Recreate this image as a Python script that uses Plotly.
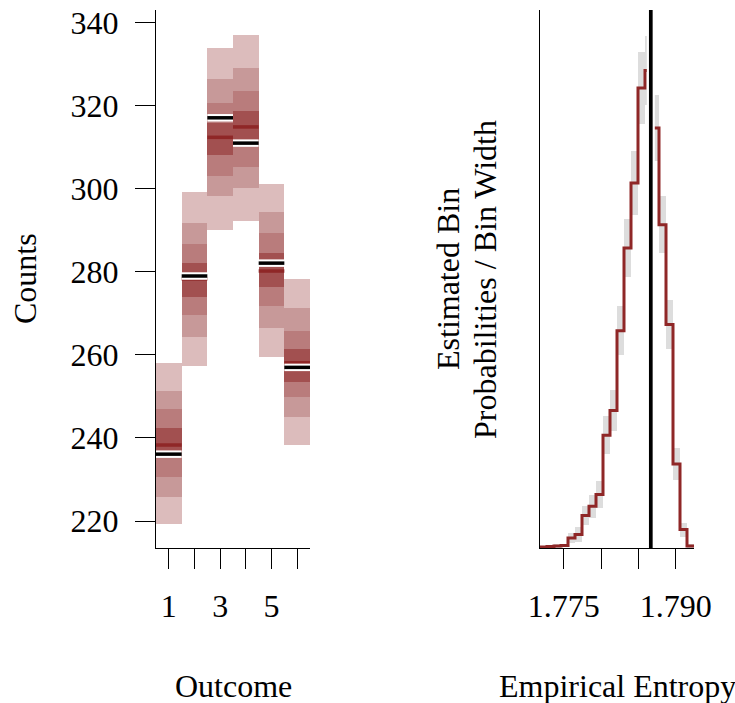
import plotly.graph_objects as go

# ---------------- data: left panel (posterior predictive quantiles of counts) ----
outcomes = [1, 2, 3, 4, 5, 6]
outcome_tick_vals = [1, 2, 3, 4, 5, 6]
outcome_tick_text = ["1", "", "3", "", "5", ""]
count_tick_vals = [220, 240, 260, 280, 300, 320, 340]

q10 = [219.3, 257.4, 290.2, 292.3, 259.6, 238.3]
q20 = [225.9, 264.4, 298.3, 300.1, 266.6, 245.1]
q30 = [230.7, 269.6, 303.2, 305.3, 271.8, 249.8]
q40 = [235.5, 274.0, 308.1, 310.1, 276.3, 253.5]
q50 = [238.3, 278.3, 312.4, 314.9, 280.2, 258.1]
q60 = [242.5, 282.2, 315.9, 318.7, 284.5, 261.4]
q70 = [247.0, 286.6, 320.7, 323.6, 289.3, 265.8]
q80 = [251.3, 291.8, 326.5, 329.0, 294.3, 271.2]
q90 = [258.1, 299.2, 334.0, 337.0, 301.1, 278.4]
observed_counts = [236.1, 279.0, 317.1, 311.0, 282.1, 257.0]

# ---------------- data: right panel (empirical entropy histogram) ----------------
bin_min = 1.77183
bin_width = 0.0009375
density = [0.16, 0.32, 0.49, 0.65, 3.1, 4.2, 10.4, 13.4, 17.2, 36.4, 44.4,
           70.3, 97.1, 118.2, 149.0, 154.7, 136.0, 104.7, 72.3, 27.1, 5.8, 0.49]
density_err = [0.3, 0.3, 0.5, 0.6, 1.6, 2.3, 3.2, 3.7, 4.3, 6.2, 6.6,
               7.9, 9.4, 10.4, 11.7, 11.3, 10.7, 9.2, 7.9, 5.2, 2.3, 0.5]
observed_entropy = 1.78667
entropy_tick_vals = [1.775, 1.780, 1.785, 1.790]
entropy_tick_text = ["1.775", "", "", "1.790"]

# ---------------- styling ----------------
C_LIGHT = "#DCBCBC"
C_LIGHT_HL = "#C79999"
C_MID = "#B97C7C"
C_MID_HL = "#A25050"
C_DARK = "#8F2727"
FONT = "Liberation Serif"
W, H = 735, 703

fig = go.Figure()

# nested quantile bands
bands = [(q10, q90, C_LIGHT), (q20, q80, C_LIGHT_HL),
         (q30, q70, C_MID), (q40, q60, C_MID_HL)]
for lo, hi, col in bands:
    fig.add_trace(go.Bar(
        x=outcomes, base=lo, y=[h - l for l, h in zip(lo, hi)], width=1.0,
        marker=dict(color=col, line=dict(width=0)),
        xaxis="x", yaxis="y", showlegend=False, hoverinfo="skip"))


def seg(xs, ys):
    sx, sy = [], []
    for xv, yv in zip(xs, ys):
        sx += [xv - 0.5, xv + 0.5, None]
        sy += [yv, yv, None]
    return sx, sy


mx, my = seg(outcomes, q50)
fig.add_trace(go.Scatter(x=mx, y=my, mode="lines", line=dict(color=C_DARK, width=3.5),
                         xaxis="x", yaxis="y", showlegend=False, hoverinfo="skip"))
ox, oy = seg(outcomes, observed_counts)
fig.add_trace(go.Scatter(x=ox, y=oy, mode="lines", line=dict(color="white", width=7.5),
                         xaxis="x", yaxis="y", showlegend=False, hoverinfo="skip"))
fig.add_trace(go.Scatter(x=ox, y=oy, mode="lines", line=dict(color="black", width=3.5),
                         xaxis="x", yaxis="y", showlegend=False, hoverinfo="skip"))

# histogram with error rectangles
nb = len(density)
centers = [bin_min + (i + 0.5) * bin_width for i in range(nb)]
edges = [bin_min + i * bin_width for i in range(nb + 1)]
fig.add_trace(go.Bar(
    x=centers, base=[d - e for d, e in zip(density, density_err)],
    y=[2 * e for e in density_err], width=bin_width,
    marker=dict(color="#DDDDDD", line=dict(width=0)),
    xaxis="x2", yaxis="y2", showlegend=False, hoverinfo="skip"))
fig.add_trace(go.Scatter(
    x=edges, y=density + [density[-1]], mode="lines", line_shape="hv",
    line=dict(color=C_DARK, width=3),
    xaxis="x2", yaxis="y2", showlegend=False, hoverinfo="skip"))

# observed entropy line (white halo + black)
for col, wd in (("white", 8), ("black", 3.7)):
    fig.add_shape(type="line", xref="x2", yref="y2 domain",
                  x0=observed_entropy, x1=observed_entropy, y0=0, y1=1,
                  line=dict(color=col, width=wd), layer="above")

yd = [1 - 548 / H, 1 - 10 / H]
axis_common = dict(showline=True, linecolor="black", linewidth=1.3, ticks="outside",
                   ticklen=20, tickwidth=1.3, tickcolor="black", showgrid=False,
                   zeroline=False, fixedrange=True, automargin=False,
                   tickfont=dict(family=FONT, size=32, color="black"))

fig.update_layout(
    width=W, height=H, margin=dict(l=0, r=0, t=0, b=0, pad=0, autoexpand=False),
    paper_bgcolor="white", plot_bgcolor="white", barmode="overlay", bargap=0,
    xaxis=dict(domain=[156 / W, 310 / W], range=[0.5, 6.5], anchor="y",
               tickvals=outcome_tick_vals, ticktext=outcome_tick_text,
               ticklabelstandoff=9, **axis_common),
    yaxis=dict(domain=yd, range=[213.5, 343.06], anchor="x",
               tickvals=count_tick_vals, ticklabelstandoff=10, **axis_common),
    xaxis2=dict(domain=[540 / W, 694 / W], range=[bin_min, bin_min + nb * bin_width],
                anchor="y2", tickvals=entropy_tick_vals, ticktext=entropy_tick_text,
                ticklabelstandoff=9, **axis_common),
    yaxis2=dict(domain=yd, range=[-0.16, 174.3], anchor="x2", showline=True,
                linecolor="black", linewidth=1.3, ticks="", showticklabels=False,
                showgrid=False, zeroline=False, fixedrange=True, automargin=False),
    showlegend=False,
)

tf = dict(family=FONT, size=32, color="black")
annots = [
    dict(text="Counts", x=25 / W, y=1 - 279 / H, textangle=-90),
    dict(text="Outcome", x=233 / W, y=1 - 686 / H, textangle=0),
    dict(text="Empirical Entropy", x=617 / W, y=1 - 686 / H, textangle=0),
    dict(text="Estimated Bin", x=448 / W, y=1 - 279 / H, textangle=-90),
    dict(text="Probabilities / Bin Width", x=485 / W, y=1 - 279 / H, textangle=-90),
]
for a in annots:
    fig.add_annotation(xref="paper", yref="paper", showarrow=False, font=tf,
                       xanchor="center", yanchor="middle", **a)

fig.write_html("out.html")
